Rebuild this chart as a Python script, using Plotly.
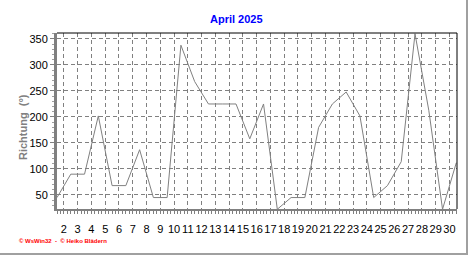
import plotly.graph_objects as go

# Daily wind direction, April 2025
days = [1, 2, 3, 4, 5, 6, 7, 8, 9, 10, 11, 12, 13, 14, 15,
        16, 17, 18, 19, 20, 21, 22, 23, 24, 25, 26, 27, 28, 29, 30]
direction = [45, 90, 90, 202, 68, 68, 137, 45, 45, 338, 268, 225, 225, 225, 158,
             225, 22.5, 45, 45, 180, 225, 248, 202, 45, 68, 114, 360, 213, 22.5, 112]
tick_days = list(range(2, 31))
y_ticks = [50, 100, 150, 200, 250, 300, 350]

title_text = "April 2025"
y_title = "Richtung\u00a0\u00a0(°)"
footer = "\u00a9 WsWin32  -  \u00a9 Heiko Blädern"

W, H = 472, 255
L, R, T, B = 57, 15, 33, 46
pw, ph = W - L - R, H - T - B

def px(xp):
    return (xp - L) / pw

def py(yp):
    return (H - B - yp) / ph

# plot values at mid-day
xs = [d + 0.5 for d in days]

fig = go.Figure()
fig.add_trace(go.Scatter(x=xs, y=direction, mode="lines",
                         line=dict(color="#808080", width=1),
                         hoverinfo="skip", showlegend=False))

grid = dict(showgrid=True, gridcolor="#808080", gridwidth=1, griddash="4px,3px")

fig.update_layout(
    width=W, height=H,
    margin=dict(l=L, r=R, t=T, b=B, pad=0),
    paper_bgcolor="white", plot_bgcolor="white",
    font=dict(family="Liberation Sans, Arial, sans-serif", size=11, color="black"),
    showlegend=False,
    xaxis=dict(range=[1.5, 30.55], tickmode="array", tickvals=tick_days,
               ticktext=[str(d) for d in tick_days], tickangle=0,
               showline=True, linecolor="#808080", linewidth=2,
               ticks="outside", ticklen=3, tickcolor="#808080", tickwidth=1,
               minor=dict(dtick=0.25, tick0=0, ticks="outside", ticklen=3,
                          tickcolor="#808080", showgrid=False),
               zeroline=False, tickfont=dict(size=11, color="black"),
               ticklabelstandoff=6,
               **grid),
    yaxis=dict(range=[23, 361.5], tickmode="array", tickvals=y_ticks,
               showline=True, linecolor="#808080", linewidth=3,
               ticks="outside", ticklen=4, tickcolor="#808080", tickwidth=1,
               minor=dict(dtick=10, tick0=0, ticks="outside", ticklen=2,
                          tickcolor="#a0a0a0", showgrid=False),
               zeroline=False, tickfont=dict(size=11, color="black"),
               **grid),
)

# black top and right frame lines
fig.add_shape(type="line", xref="paper", yref="paper", x0=0, x1=1, y0=1, y1=1,
              line=dict(color="black", width=1))
fig.add_shape(type="line", xref="paper", yref="paper", x0=1, x1=1, y0=0, y1=1,
              line=dict(color="black", width=1))
# outer gray border (right and bottom)
fig.add_shape(type="line", xref="paper", yref="paper",
              x0=px(467), x1=px(467), y0=py(254), y1=py(0),
              line=dict(color="#a0a0a0", width=2))
fig.add_shape(type="line", xref="paper", yref="paper",
              x0=px(0), x1=px(468), y0=py(254), y1=py(254),
              line=dict(color="#a0a0a0", width=2))

fig.add_annotation(text="<b>" + title_text + "</b>", xref="paper", yref="paper",
                   x=px(236.7), y=py(18.7), xanchor="center", yanchor="middle",
                   showarrow=False, font=dict(size=11, color="#0000FF"))
fig.add_annotation(text="<b>" + y_title + "</b>", xref="paper", yref="paper",
                   x=px(23.5), y=py(127.5), xanchor="center", yanchor="middle",
                   textangle=-90, showarrow=False, font=dict(size=11, color="#808080"))
fig.add_annotation(text="<b>" + footer + "</b>", xref="paper", yref="paper",
                   x=px(17), y=py(240.7), xanchor="left", yanchor="middle",
                   showarrow=False, font=dict(size=6, color="#FF0000"))

fig.write_html("out.html")
